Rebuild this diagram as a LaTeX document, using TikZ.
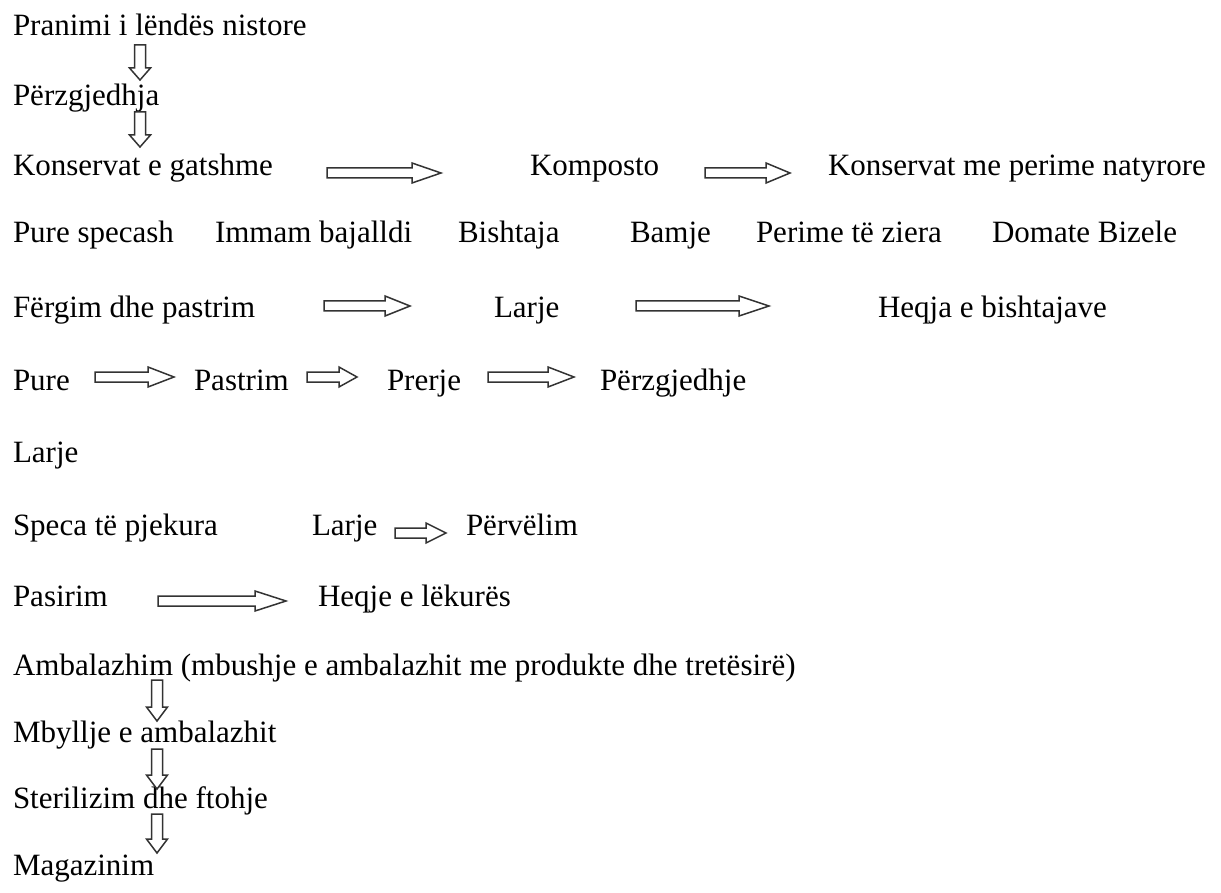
\documentclass[tikz,border=0pt]{standalone}
\usepackage{fontspec}
\setmainfont{Liberation Serif}
\usetikzlibrary{calc}
\tikzset{
  lbl/.style={anchor=base west,inner sep=0pt,outer sep=0pt,text=black,font=\fontsize{31}{37}\selectfont},
  blockarrow/.style={draw=black!80,line width=1.5pt,fill=white,line join=miter}
}
\newcommand\hbarrow[3]{\draw[blockarrow] let \p1=(#1), \p2=(#2) in
  (\x1,\y1+5pt) -- (\x2-#3pt,\y1+5pt) -- (\x2-#3pt,\y1+10pt) -- (\x2,\y1) --
  (\x2-#3pt,\y1-10pt) -- (\x2-#3pt,\y1-5pt) -- (\x1,\y1-5pt) -- cycle;}
\newcommand\vbarrow[3]{\draw[blockarrow] let \p1=(#1), \p2=(#2) in
  (\x1-5.5pt,\y1) -- (\x1-5.5pt,\y2+#3pt) -- (\x1-10.5pt,\y2+#3pt) -- (\x1,\y2) --
  (\x1+10.5pt,\y2+#3pt) -- (\x1+5.5pt,\y2+#3pt) -- (\x1+5.5pt,\y1) -- cycle;}
\begin{document}
\begin{tikzpicture}[x=1pt,y=-1pt]
\useasboundingbox[fill=white] (0,0) rectangle (1221,893);
% row 1-3
\node[lbl] (r1) at (13,36) {Pranimi i lëndës nistore};
\node[lbl] (r2) at (13,106) {Përzgjedhja};
\node[lbl] (r3a) at (13,176) {Konservat e gatshme};
\node[lbl] (r3b) at (530,176) {Komposto};
\node[lbl] (r3c) at (828,176) {Konservat me perime natyrore};
% row 4
\node[lbl] (r4a) at (13,243) {Pure specash};
\node[lbl] (r4b) at (215,243) {Immam bajalldi};
\node[lbl] (r4c) at (458,243) {Bishtaja};
\node[lbl] (r4d) at (630,243) {Bamje};
\node[lbl] (r4e) at (756,243) {Perime të ziera};
\node[lbl] (r4f) at (992,243) {Domate Bizele};
% row 5
\node[lbl] (r5a) at (13,318) {Fërgim dhe pastrim};
\node[lbl] (r5b) at (494,318) {Larje};
\node[lbl] (r5c) at (878,318) {Heqja e bishtajave};
% row 6
\node[lbl] (r6a) at (13,390) {Pure};
\node[lbl] (r6b) at (194,390) {Pastrim};
\node[lbl] (r6c) at (387,390) {Prerje};
\node[lbl] (r6d) at (600,390) {Përzgjedhje};
% row 7-9
\node[lbl] (r7) at (13,462) {Larje};
\node[lbl] (r8a) at (13,535) {Speca të pjekura};
\node[lbl] (r8b) at (312,535) {Larje};
\node[lbl] (r8c) at (466,535) {Përvëlim};
\node[lbl] (r9a) at (13,606) {Pasirim};
\node[lbl] (r9b) at (318,606) {Heqje e lëkurës};
% row 10-13
\node[lbl] (r10) at (13,675) {Ambalazhim (mbushje e ambalazhit me produkte dhe tretësirë)};
\node[lbl] (r11) at (13,742) {Mbyllje e ambalazhit};
\node[lbl] (r12) at (13,808) {Sterilizim dhe ftohje};
\node[lbl] (r13) at (13,875) {Magazinim};
% arrow end points
\coordinate (v1s) at (140,45);  \coordinate (v1e) at (140,80);
\coordinate (v2s) at (140,112); \coordinate (v2e) at (140,147);
\coordinate (v3s) at (157,680); \coordinate (v3e) at (157,721);
\coordinate (v4s) at (157,749); \coordinate (v4e) at (157,789);
\coordinate (v5s) at (157,814); \coordinate (v5e) at (157,853);
\coordinate (h1s) at (327,173); \coordinate (h1e) at (441,173);
\coordinate (h2s) at (705,173); \coordinate (h2e) at (790,173);
\coordinate (h3s) at (324,306); \coordinate (h3e) at (410,306);
\coordinate (h4s) at (636,306); \coordinate (h4e) at (769,306);
\coordinate (h5s) at (95,377);  \coordinate (h5e) at (174,377);
\coordinate (h6s) at (307,377); \coordinate (h6e) at (357,377);
\coordinate (h7s) at (488,377); \coordinate (h7e) at (574,377);
\coordinate (h8s) at (395,533); \coordinate (h8e) at (446,533);
\coordinate (h9s) at (158,601); \coordinate (h9e) at (286,601);
% arrows
\vbarrow{v1s}{v1e}{12}
\vbarrow{v2s}{v2e}{12}
\vbarrow{v3s}{v3e}{14}
\vbarrow{v4s}{v4e}{14}
\vbarrow{v5s}{v5e}{14}
\hbarrow{h1s}{h1e}{29}
\hbarrow{h2s}{h2e}{24}
\hbarrow{h3s}{h3e}{25}
\hbarrow{h4s}{h4e}{30}
\hbarrow{h5s}{h5e}{26}
\hbarrow{h6s}{h6e}{18}
\hbarrow{h7s}{h7e}{26}
\hbarrow{h8s}{h8e}{20}
\hbarrow{h9s}{h9e}{31}
\end{tikzpicture}
\end{document}
